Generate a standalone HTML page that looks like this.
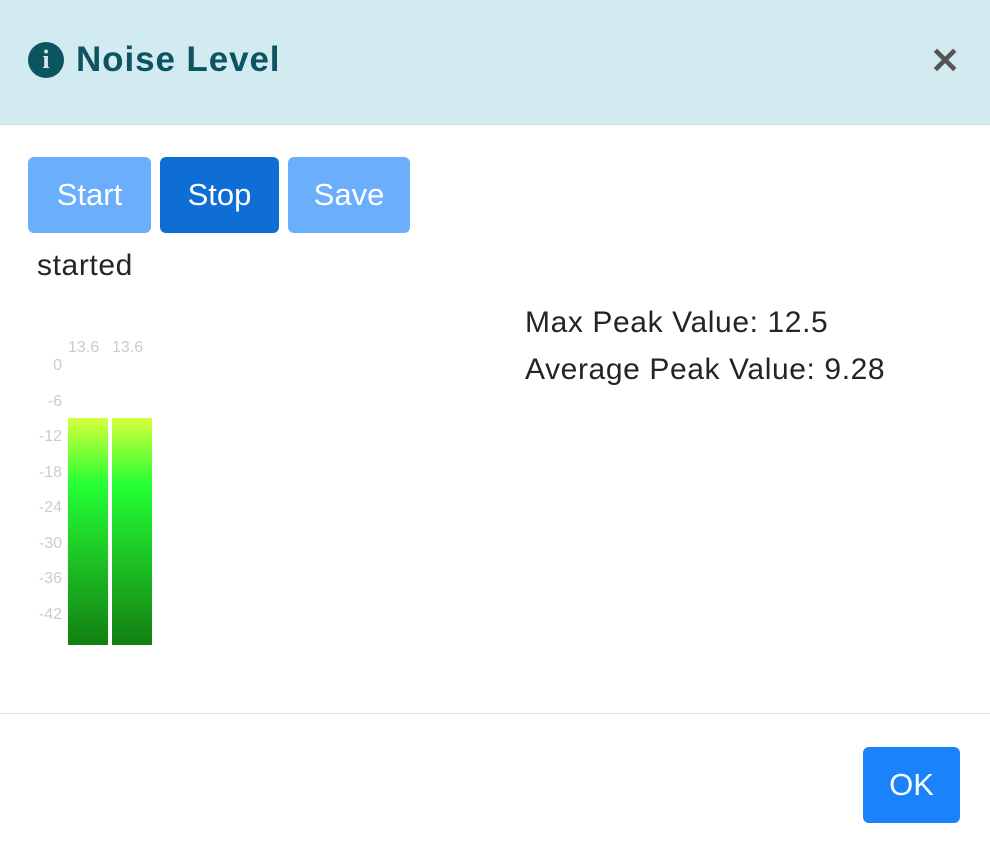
<!DOCTYPE html>
<html><head><meta charset="utf-8"><style>
body{margin:0;width:990px;height:848px;background:#fff;font-family:"Liberation Sans",sans-serif;overflow:hidden;position:relative}
.hdr{position:absolute;left:0;top:0;width:990px;height:124px;background:#d1ebf1;border-bottom:1px solid #bfe0e8}
.title{position:absolute;left:28px;top:40px;font-size:35px;color:#0c5460;font-weight:bold;display:flex;align-items:center;letter-spacing:0.9px}
.icon{width:36px;height:36px;border-radius:50%;background:#0c5460;color:#d1ebf1;font-family:"Liberation Serif",serif;font-weight:bold;font-size:26px;display:flex;align-items:center;justify-content:center;margin-right:12px;letter-spacing:0}
.close{position:absolute;left:930px;top:40px;font-size:36px;color:#555;font-weight:bold}
.btn{position:absolute;top:157px;height:76px;border-radius:6px;color:#fff;font-size:31px;display:flex;align-items:center;justify-content:center}
.txt{position:absolute;font-size:30px;color:#212529;letter-spacing:0.6px}
.tick{position:absolute;font-size:16px;color:#ccc;text-align:right;width:42px;left:20px}
.val{position:absolute;font-size:16px;color:#ccc;top:339px}
.bar{position:absolute;background:linear-gradient(#d6ff3a 0%,#22ff33 30%,#1dc726 60%,#137f12 100%)}
.foot{position:absolute;left:0;top:713px;width:990px;height:1px;background:#dee2e6}
</style></head><body>
<div class="hdr">
<div class="title"><span class="icon">i</span>Noise Level</div>
<div class="close">✕</div>
</div>
<div class="btn" style="left:28px;width:123px;background:#6aaefc">Start</div>
<div class="btn" style="left:160px;width:119px;background:#0f6ed6">Stop</div>
<div class="btn" style="left:288px;width:122px;background:#6aaefc">Save</div>
<div class="txt" style="left:37px;top:249px">started</div>
<div class="txt" style="left:525px;top:306px">Max Peak Value: 12.5</div>
<div class="txt" style="left:525px;top:353px">Average Peak Value: 9.28</div>
<div id="meter"></div>
<div class="foot"></div>
<div class="btn" style="left:863px;top:747px;width:97px;height:76px;background:#1a82fb">OK</div>
<script>
const ticks=[0,-6,-12,-18,-24,-30,-36,-42];
const channels=["left","right"];
const levels=[-8.9,-8.9];
const peaks=["13.6","13.6"];
const minDb=-47.2;
function y(v){return 365-v*5.93;}
const m=document.getElementById('meter');
ticks.forEach(t=>{const d=document.createElement('div');d.className='tick';d.style.top=(y(t)-8)+'px';d.textContent=t;


m.appendChild(d);});
channels.forEach((c,i)=>{const x=68+i*44;const b=document.createElement('div');b.className='bar';
b.style.left=x+'px';b.style.width='40px';b.style.top=y(levels[i])+'px';b.style.height=(y(minDb)-y(levels[i]))+'px';


m.appendChild(b);
const v=document.createElement('div');v.className='val';v.style.left=x+'px';v.textContent=peaks[i];


m.appendChild(v);});
</script>
</body></html>
